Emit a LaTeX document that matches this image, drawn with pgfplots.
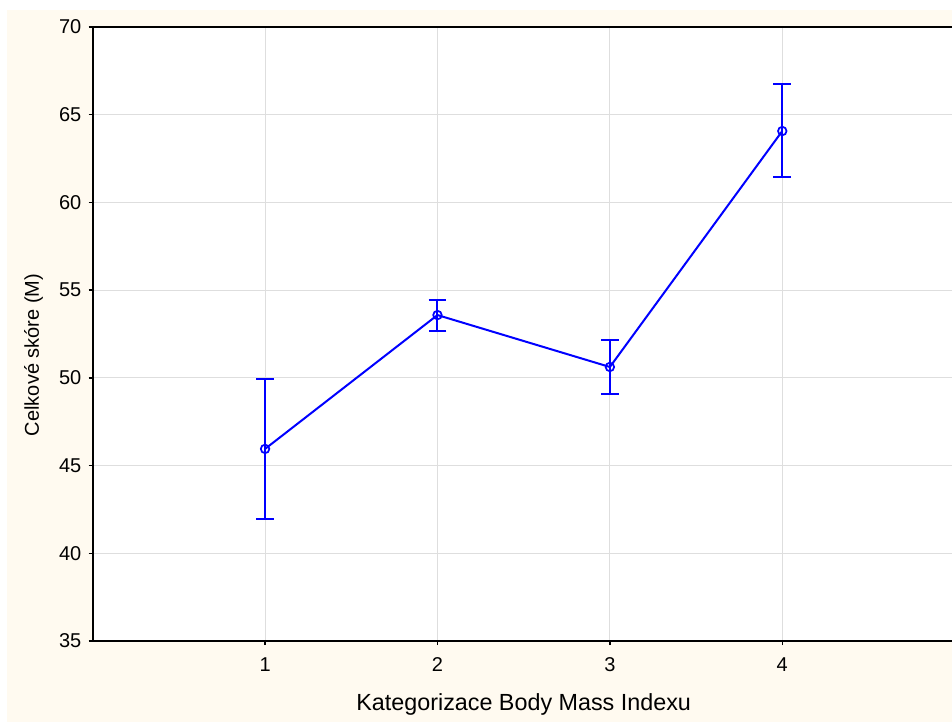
\documentclass[border=0pt]{standalone}
\usepackage{pgfplots}
\pgfplotsset{compat=1.18}
\usepackage{pgfplotstable}
\usepackage{fontspec}
\setmainfont{Liberation Sans}
\definecolor{cream}{RGB}{255,250,240}
\definecolor{gridgray}{RGB}{222,222,222}

% BMI category, mean score, upper and lower error distances
\pgfplotstableread{
x  y      ep    em
1  45.95  3.98  4.00
2  53.58  0.86  0.91
3  50.62  1.54  1.54
4  64.07  2.68  2.62
}\bmidata

\begin{document}
\begin{tikzpicture}
\useasboundingbox (0pt,0pt) rectangle (714pt,541.5pt);
\fill[white] (0pt,0pt) rectangle (714pt,541.5pt);
\fill[cream] (5.25pt,0pt) rectangle (714pt,534pt);
\begin{axis}[
  at={(69.5pt,60.75pt)}, anchor=south west,
  scale only axis,
  width=646.5pt, height=460.5pt,
  xmin=0, xmax=5, ymin=35, ymax=70,
  xtick={1,2,3,4}, ytick={35,40,...,70},
  xtick pos=bottom, ytick pos=both,
  tick align=outside,
  major tick length=3pt,
  every tick/.style={black, line width=1pt},
  axis line style={black, line width=1.5pt},
  axis background/.style={fill=white},
  grid=major,
  major grid style={gridgray, line width=0.6pt},
  ticklabel style={font=\fontsize{15}{17}\selectfont},
  /pgf/number format/assume math mode=true,
  xlabel={Kategorizace Body Mass Indexu},
  ylabel={Celkové skóre (M)},
  xlabel style={at={(axis description cs:0.5,-0.104)}, anchor=center,
    font=\fontsize{17.5}{19}\selectfont},
  ylabel style={at={(axis description cs:-0.0686,0.466)}, anchor=center,
    rotate=0, font=\fontsize{15}{17}\selectfont},
  xticklabel style={yshift=-6pt},
  yticklabel style={xshift=-2pt},
  clip=false,
]
\addplot[blue, line width=1.5pt, mark=o, mark size=3.2pt,
  mark options={line width=1.3pt, fill=white},
  error bars/.cd, y dir=both, y explicit,
  error mark options={rotate=90, mark size=6.6pt, line width=1.5pt, blue},
  error bar style={line width=1.5pt, blue}]
  table[x=x, y=y, y error plus=ep, y error minus=em] {\bmidata};
\end{axis}
\end{tikzpicture}
\end{document}
